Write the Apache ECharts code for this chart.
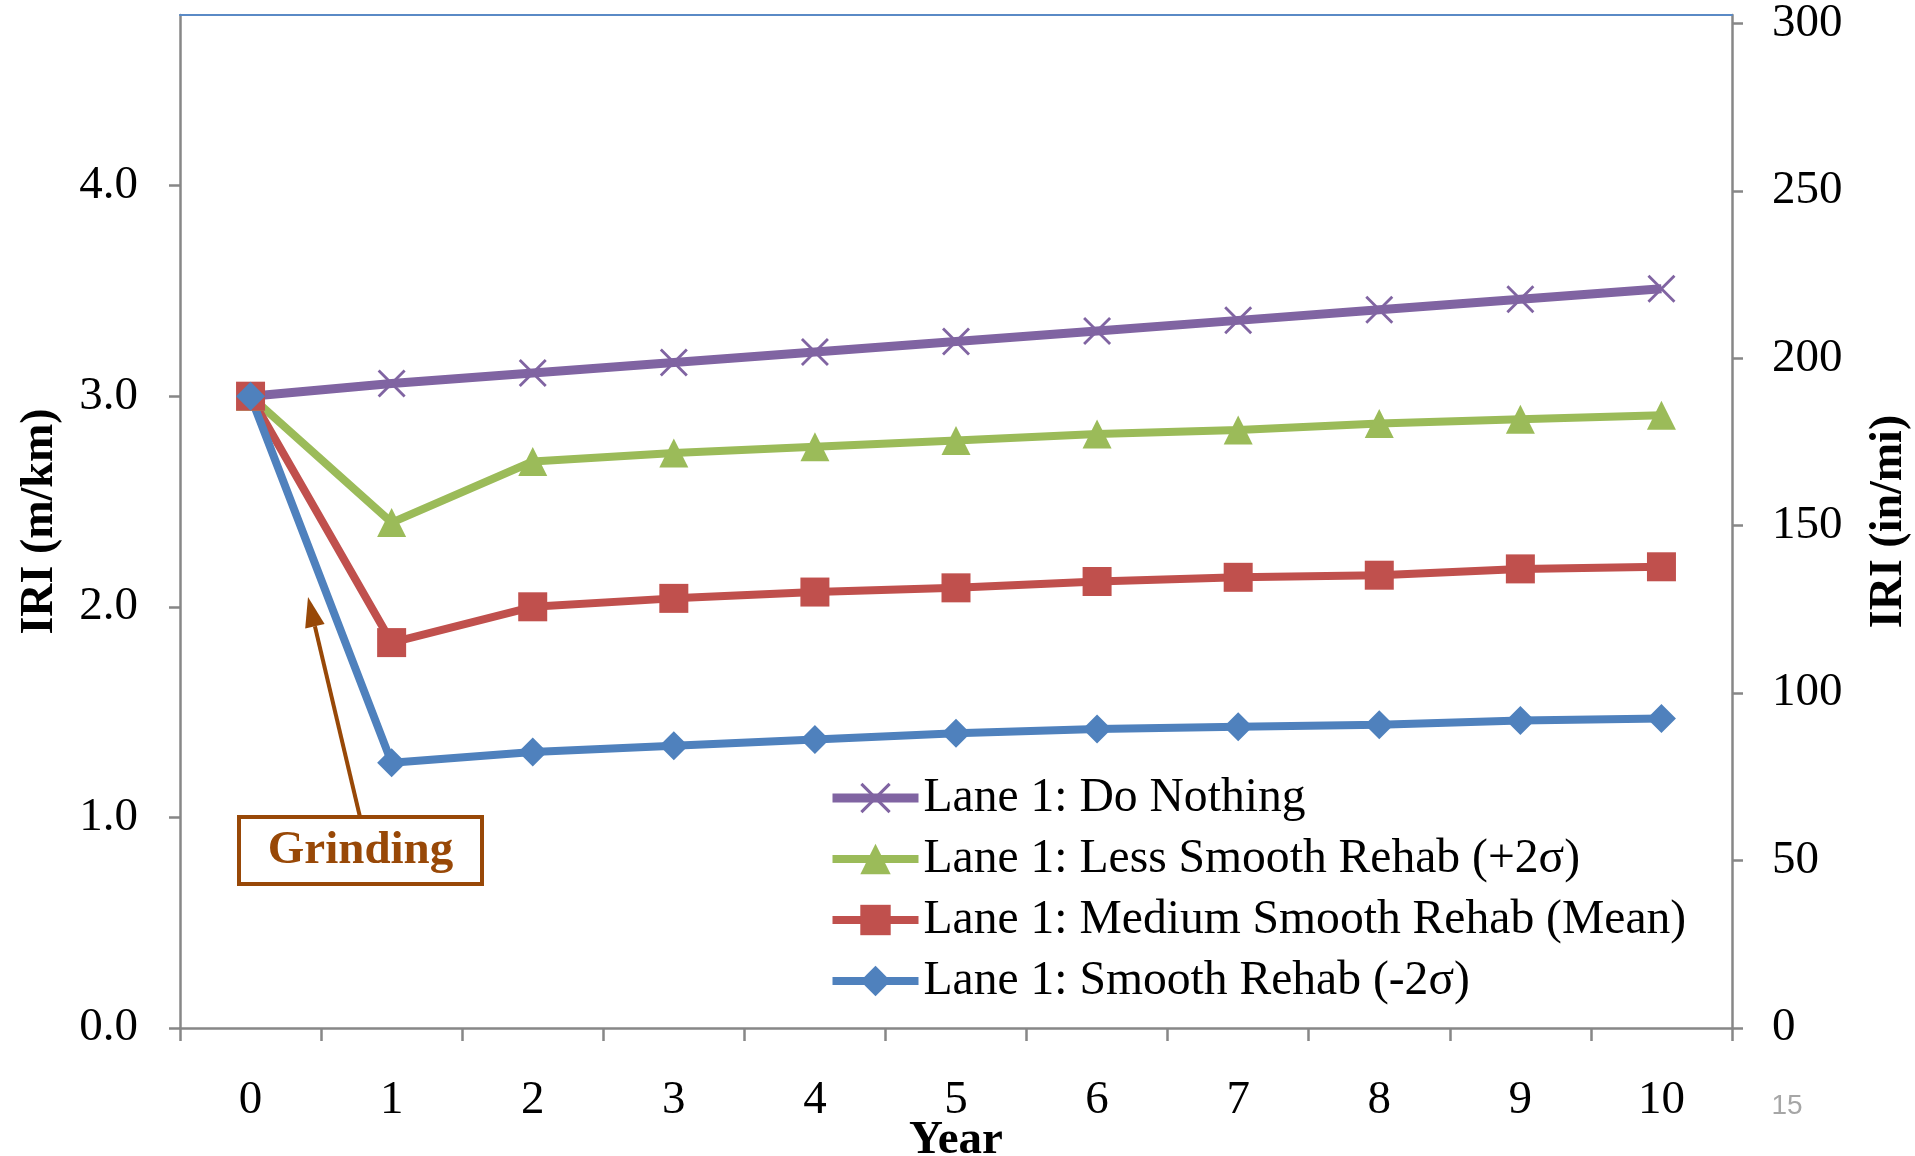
<!DOCTYPE html>
<html>
<head>
<meta charset="utf-8">
<script src="https://cdn.jsdelivr.net/npm/echarts@6/dist/echarts.min.js"></script>
<style>
  html, body { margin: 0; padding: 0; background: #ffffff; }
  #chart { width: 1915px; height: 1156px; }
</style>
</head>
<body>
<div id="chart"></div>
<script>
// Years after treatment
const years = ['0', '1', '2', '3', '4', '5', '6', '7', '8', '9', '10'];

// Series names
const seriesNames = [
  'Lane 1: Do Nothing',
  'Lane 1: Less Smooth Rehab (+2\u03c3)',
  'Lane 1: Medium Smooth Rehab (Mean)',
  'Lane 1: Smooth Rehab (-2\u03c3)'
];

// IRI values in m/km
const doNothing    = [3.00, 3.06, 3.11, 3.16, 3.21, 3.26, 3.31, 3.36, 3.41, 3.46, 3.51];
const lessSmooth   = [3.00, 2.40, 2.69, 2.73, 2.76, 2.79, 2.82, 2.84, 2.87, 2.89, 2.91];
const mediumSmooth = [3.00, 1.83, 2.00, 2.04, 2.07, 2.09, 2.12, 2.14, 2.15, 2.18, 2.19];
const smooth       = [3.00, 1.26, 1.31, 1.34, 1.37, 1.40, 1.42, 1.43, 1.44, 1.46, 1.47];

// Axis tick values
const leftTicks  = [0, 1, 2, 3, 4];                  // m/km
const rightTicks = [0, 50, 100, 150, 200, 250, 300]; // in/mi

const SERIF = "'Liberation Serif', 'Times New Roman', serif";
const AXIS_GRAY = '#878787';
const colors = ['#8064A2', '#9BBB59', '#C0504D', '#4F81BD'];
const BROWN = '#984807';

// "×" marker drawn as two thin bars
const crossPath = 'path://M0,1 L1,0 L14,13 L13,14 Z M13,0 L14,1 L1,14 L0,13 Z';

const chart = echarts.init(document.getElementById('chart'), null, { renderer: 'canvas' });

function lineSeries(name, data, color, symbol, width, size) {
  return {
    name: name,
    type: 'line',
    data: data,
    xAxisIndex: 0,
    yAxisIndex: 0,
    symbol: symbol,
    symbolSize: size,
    showSymbol: true,
    showAllSymbol: true,
    lineStyle: { color: color, width: width },
    itemStyle: { color: color },
    emphasis: { disabled: true },
    animation: false
  };
}

const option = {
  animation: false,
  backgroundColor: '#ffffff',
  grid: {
    left: 180, right: 183, top: 15, bottom: 128,
    containLabel: false,
    outerBoundsMode: 'none'
  },
  legend: {
    orient: 'vertical',
    left: 828,
    top: 774,
    padding: 0,
    itemWidth: 86,
    itemHeight: 38,
    itemGap: 13,
    data: seriesNames.map((n, i) => ({ name: n, lineStyle: { width: i === 0 ? 9 : 8 } })),
    textStyle: { fontFamily: SERIF, fontSize: 47.6, color: '#000000', lineHeight: 48 },
    selectedMode: false
  },
  xAxis: [
    {
      type: 'category',
      data: years,
      position: 'bottom',
      boundaryGap: true,
      name: 'Year',
      nameLocation: 'middle',
      nameMoveOverlap: false,
      nameGap: 89,
      nameTextStyle: { fontFamily: SERIF, fontSize: 47, fontWeight: 'bold', color: '#000000' },
      axisLine: { onZero: false, lineStyle: { color: AXIS_GRAY, width: 2.5 } },
      axisTick: { show: true, length: 13, lineStyle: { color: AXIS_GRAY, width: 2.5 } },
      axisLabel: { fontFamily: SERIF, fontSize: 47, color: '#000000', margin: 49 },
      splitLine: { show: false }
    },
    {
      type: 'category',
      data: years,
      position: 'top',
      boundaryGap: true,
      axisLine: { onZero: false, lineStyle: { color: '#5A8AC6', width: 2 } },
      axisTick: { show: false },
      axisLabel: { show: false },
      splitLine: { show: false }
    }
  ],
  yAxis: [
    {
      type: 'value',
      position: 'left',
      min: 0,
      max: 4.81,
      name: 'IRI (m/km)',
      nameLocation: 'middle',
      nameRotate: 90,
      nameGap: 117,
      nameTextStyle: { fontFamily: SERIF, fontSize: 46, fontWeight: 'bold', color: '#000000' },
      axisLine: { show: true, onZero: false, lineStyle: { color: AXIS_GRAY, width: 2.5 } },
      axisTick: { show: true, length: 11, customValues: leftTicks, lineStyle: { color: AXIS_GRAY, width: 2.5 } },
      axisLabel: {
        customValues: leftTicks,
        fontFamily: SERIF, fontSize: 47, color: '#000000', margin: 42,
        formatter: v => v.toFixed(1)
      },
      splitLine: { show: false }
    },
    {
      type: 'value',
      position: 'right',
      min: 0,
      max: 302.5,
      name: 'IRI (in/mi)',
      nameLocation: 'middle',
      nameRotate: 90,
      nameGap: 134,
      nameTextStyle: { fontFamily: SERIF, fontSize: 46, fontWeight: 'bold', color: '#000000' },
      axisLine: { show: true, onZero: false, lineStyle: { color: AXIS_GRAY, width: 2.5 } },
      axisTick: { show: true, length: 11, customValues: rightTicks, lineStyle: { color: AXIS_GRAY, width: 2.5 } },
      axisLabel: {
        customValues: rightTicks,
        fontFamily: SERIF, fontSize: 47, color: '#000000', margin: 40
      },
      splitLine: { show: false }
    }
  ],
  series: [
    lineSeries(seriesNames[0], doNothing, colors[0], crossPath, 9, 28),
    lineSeries(seriesNames[1], lessSmooth, colors[1], 'triangle', 8, 29),
    lineSeries(seriesNames[2], mediumSmooth, colors[2], 'rect', 8, 29),
    lineSeries(seriesNames[3], smooth, colors[3], 'diamond', 8, 29)
  ],
  graphic: [
    // "Grinding" callout box
    {
      type: 'rect',
      shape: { x: 239, y: 817, width: 243, height: 67 },
      style: { fill: '#ffffff', stroke: BROWN, lineWidth: 4 },
      z: 100
    },
    {
      type: 'text',
      x: 360.5, y: 851,
      style: {
        text: 'Grinding', fill: BROWN,
        font: "bold 47px 'Liberation Serif', 'Times New Roman', serif",
        align: 'center', verticalAlign: 'middle'
      },
      z: 101
    },
    // arrow shaft and head
    {
      type: 'line',
      shape: { x1: 360, y1: 817, x2: 314.9, y2: 626.2 },
      style: { stroke: BROWN, lineWidth: 4 },
      z: 100
    },
    {
      type: 'polygon',
      shape: { points: [[308, 597], [324.6, 623.9], [305.2, 628.5]] },
      style: { fill: BROWN },
      z: 100
    },
    // page number
    {
      type: 'text',
      x: 1787, y: 1106,
      style: {
        text: '15', fill: '#A6A6A6',
        font: "28px 'Liberation Sans', Arial, sans-serif",
        align: 'center', verticalAlign: 'middle'
      }
    }
  ]
};

chart.setOption(option);
</script>
</body>
</html>
